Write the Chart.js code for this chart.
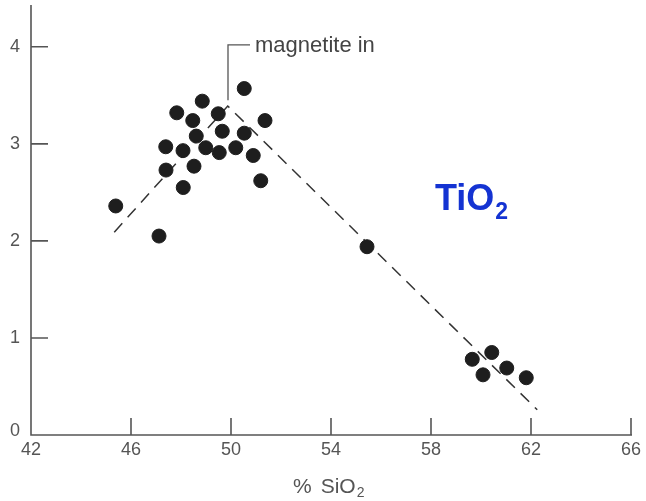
<!DOCTYPE html>
<html>
<head>
<meta charset="utf-8">
<script src="https://cdn.jsdelivr.net/npm/chart.js@4"></script>
<style>
  html, body { margin: 0; padding: 0; background: #fff; }
  #wrap { width: 646px; height: 501px; }
</style>
</head>
<body>
<div id="wrap"><canvas id="chart" width="646" height="501"></canvas></div>
<script>
// samples (% SiO2, TiO2)
const sio2 = [45.39, 47.12, 47.40, 47.39, 47.83, 48.09, 48.08, 48.47, 48.52, 48.61,
              48.85, 48.99, 49.49, 49.65, 49.53, 50.19, 50.53, 50.53, 50.89, 51.36,
              51.19, 55.44, 59.65, 60.43, 60.08, 61.03, 61.81];
const tio2 = [2.36, 2.05, 2.73, 2.97, 3.32, 2.55, 2.93, 3.24, 2.77, 3.08,
              3.44, 2.96, 3.31, 3.13, 2.91, 2.96, 3.57, 3.11, 2.88, 3.24,
              2.62, 1.94, 0.78, 0.85, 0.62, 0.69, 0.59];

// dashed trend (rise, then fall after magnetite in)
const trendX = [45.33, 49.87, 62.25];
const trendY = [2.09, 3.39, 0.26];

// "magnetite in" marker bracket
const markX = [49.88, 49.88, 50.76];
const markY = [3.45, 4.02, 4.02];

const xTicks = [42, 46, 50, 54, 58, 62, 66];
const yTicks = [0, 1, 2, 3, 4];

const toPts = (xs, ys) => xs.map((x, i) => ({ x: x, y: ys[i] }));

const axisColor = "#555";
const textColor = "#555";
const font = "'Liberation Sans', Arial, sans-serif";

// axes with inward ticks, drawn from the chart scales
const axesPlugin = {
    id: "axes",
    beforeDatasetsDraw(chart) {
        const ctx = chart.ctx;
        const xs = chart.scales.x, ys = chart.scales.y;
        const x0 = xs.getPixelForValue(42), x1 = xs.getPixelForValue(66);
        const y0 = ys.getPixelForValue(0), yTop = ys.getPixelForValue(4.43);
        ctx.save();
        ctx.strokeStyle = axisColor;
        ctx.lineWidth = 1.6;
        ctx.beginPath();
        ctx.moveTo(x0, yTop);
        ctx.lineTo(x0, y0);
        ctx.lineTo(x1 + 1, y0);
        // y ticks point right
        yTicks.forEach(v => {
            if (v === 0) return;
            const p = ys.getPixelForValue(v);
            ctx.moveTo(x0, p);
            ctx.lineTo(x0 + 17, p);
        });
        // x ticks point up
        xTicks.forEach(v => {
            if (v === 42) return;
            const p = xs.getPixelForValue(v);
            ctx.moveTo(p, y0);
            ctx.lineTo(p, y0 - 17);
        });
        ctx.stroke();

        ctx.fillStyle = textColor;
        ctx.font = "18px " + font;
        ctx.textAlign = "center";
        ctx.textBaseline = "middle";
        yTicks.forEach(v => {
            const p = ys.getPixelForValue(v);
            ctx.fillText(String(v), 15, v === 0 ? p - 4 : p);
        });
        xTicks.forEach(v => {
            ctx.fillText(String(v), xs.getPixelForValue(v), y0 + 15);
        });
        ctx.restore();
    },
    afterDraw(chart) {
        const ctx = chart.ctx;
        const xs = chart.scales.x, ys = chart.scales.y;
        ctx.save();
        // axis title
        ctx.fillStyle = textColor;
        ctx.font = "21px " + font;
        ctx.textBaseline = "alphabetic";
        ctx.textAlign = "left";
        let tx = 293, ty = 493;
        ctx.fillText("%", tx, ty);
        tx += ctx.measureText("%").width + 9;
        ctx.fillText("SiO", tx, ty);
        tx += ctx.measureText("SiO").width + 1;
        ctx.font = "14px " + font;
        ctx.fillText("2", tx, ty + 4);

        // magnetite label
        ctx.font = "22px " + font;
        ctx.fillStyle = "#444";
        ctx.textBaseline = "middle";
        ctx.fillText("magnetite in", xs.getPixelForValue(50.76) + 5, ys.getPixelForValue(4.02) + 1);

        // TiO2 label
        ctx.fillStyle = "#1433d2";
        ctx.font = "bold 36px " + font;
        ctx.textBaseline = "alphabetic";
        ctx.fillText("TiO", 435, 210);
        const w = ctx.measureText("TiO").width;
        ctx.font = "bold 23px " + font;
        ctx.fillText("2", 435 + w + 1, 219);
        ctx.restore();
    }
};

new Chart(document.getElementById("chart").getContext("2d"), {
    type: "scatter",
    data: {
        datasets: [
            {
                label: "TiO2",
                data: toPts(sio2, tio2),
                backgroundColor: "#1e1e1e",
                borderColor: "#1e1e1e",
                pointRadius: 7,
                pointHoverRadius: 7
            },
            {
                label: "trend",
                type: "line",
                data: toPts(trendX, trendY),
                borderColor: "#333",
                borderWidth: 1.5,
                borderDash: [12, 8],
                pointRadius: 0,
                fill: false
            },
            {
                label: "magnetite in",
                type: "line",
                data: toPts(markX, markY),
                borderColor: "#555",
                borderWidth: 1.3,
                pointRadius: 0,
                fill: false
            }
        ]
    },
    options: {
        responsive: false,
        animation: false,
        layout: { padding: { left: 31, right: 15, top: 5, bottom: 66 } },
        plugins: {
            legend: { display: false },
            tooltip: { enabled: false }
        },
        scales: {
            x: { type: "linear", min: 42, max: 66, display: false },
            y: { type: "linear", min: 0, max: 4.4, display: false }
        }
    },
    plugins: [axesPlugin]
});
</script>
</body>
</html>
